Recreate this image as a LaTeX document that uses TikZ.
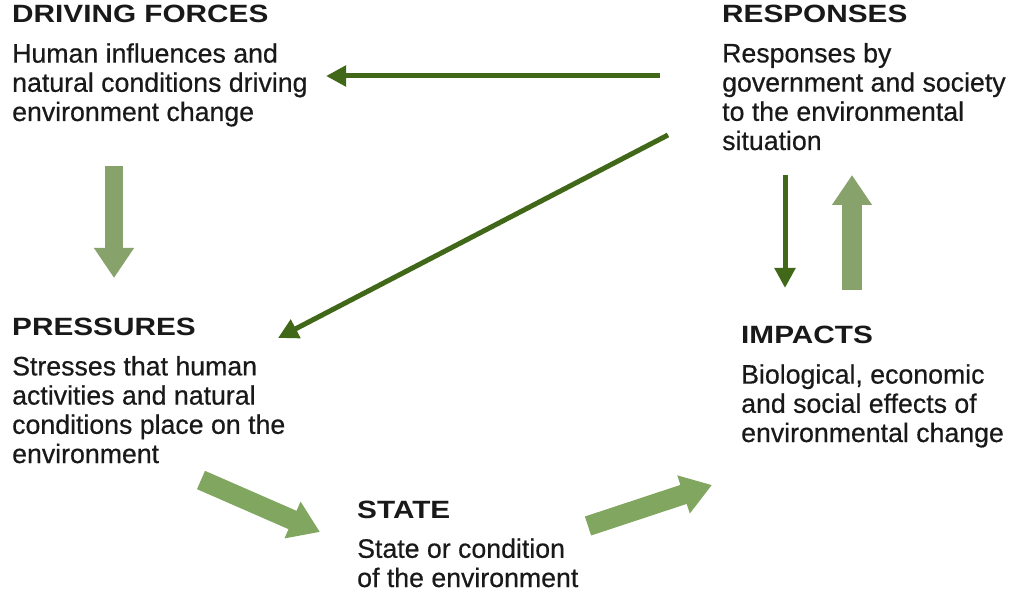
\documentclass[tikz,border=0pt]{standalone}
\usepackage{fontspec}
\setmainfont{Liberation Sans}[FakeBold=0.5]
\newfontfamily\headfont{Liberation Sans}[FakeStretch=1.19]
\usepackage{tikz}
\usetikzlibrary{arrows.meta}
\definecolor{darkleaf}{RGB}{64,104,24}
\definecolor{paleleaf}{RGB}{128,166,96}
\definecolor{greyleaf}{RGB}{136,162,108}

\begin{document}
\begin{tikzpicture}[x=1pt,y=-1pt]
\tikzstyle{every node}=[inner sep=0pt,anchor=base west,text=black!90];
\tikzstyle{head}=[font=\headfont\bfseries\fontsize{25}{30}\selectfont];
\tikzstyle{body}=[align=left,font=\fontsize{26.7}{29.2}\selectfont];
\tikzstyle{fat}=[line width=20pt,-{Triangle[length=30pt,width=38pt]}];
\tikzstyle{thin}=[darkleaf,line width=5pt,-{Triangle[length=20pt,width=20pt]}];
\useasboundingbox (0,0) rectangle (1017,601);
% titles
\path (12,23) node[head] (drive) {DRIVING FORCES};
\path (722,23) node[head] (resp) {RESPONSES};
\path (12,336) node[head] (press) {PRESSURES};
\path (741,344) node[head] (impact) {IMPACTS};
\path (357,518) node[head] (state) {STATE};
% texts (placed by the baseline of their last line)
\path (12,121) node[body] (drivetxt) {Human influences and\\natural conditions driving\\environment change};
\path (722,150) node[body] (resptxt) {Responses by\\government and society\\to the environmental\\situation};
\path (12,463) node[body] (presstxt) {Stresses that human\\activities and natural\\conditions place on the\\environment};
\path (741,442) node[body] (impacttxt) {Biological, economic\\and social effects of\\environmental change};
\path (357,587) node[body] (statetxt) {State or condition\\of the environment};
% arrow ends
\coordinate (d1) at (114,166);
\coordinate (d2) at (114,278);
\coordinate (p1) at (201,480);
\coordinate (p2) at (320,532);
\coordinate (s1) at (588,526);
\coordinate (s2) at (712,485);
\coordinate (i1) at (852,290);
\coordinate (i2) at (852,175);
\coordinate (r1) at (785,175);
\coordinate (r2) at (785,288);
\coordinate (h1) at (660,76);
\coordinate (h2) at (326,76);
\coordinate (g1) at (668,135);
\coordinate (g2) at (278,338);
\draw[fat,greyleaf,line width=18pt] (d1) -- (d2);
\draw[fat,paleleaf] (p1) -- (p2);
\draw[fat,paleleaf] (s1) -- (s2);
\draw[fat,greyleaf] (i1) -- (i2);
\draw[thin] (r1) -- (r2);
\draw[thin] (h1) -- (h2);
\draw[thin] (g1) -- (g2);
\end{tikzpicture}
\end{document}
